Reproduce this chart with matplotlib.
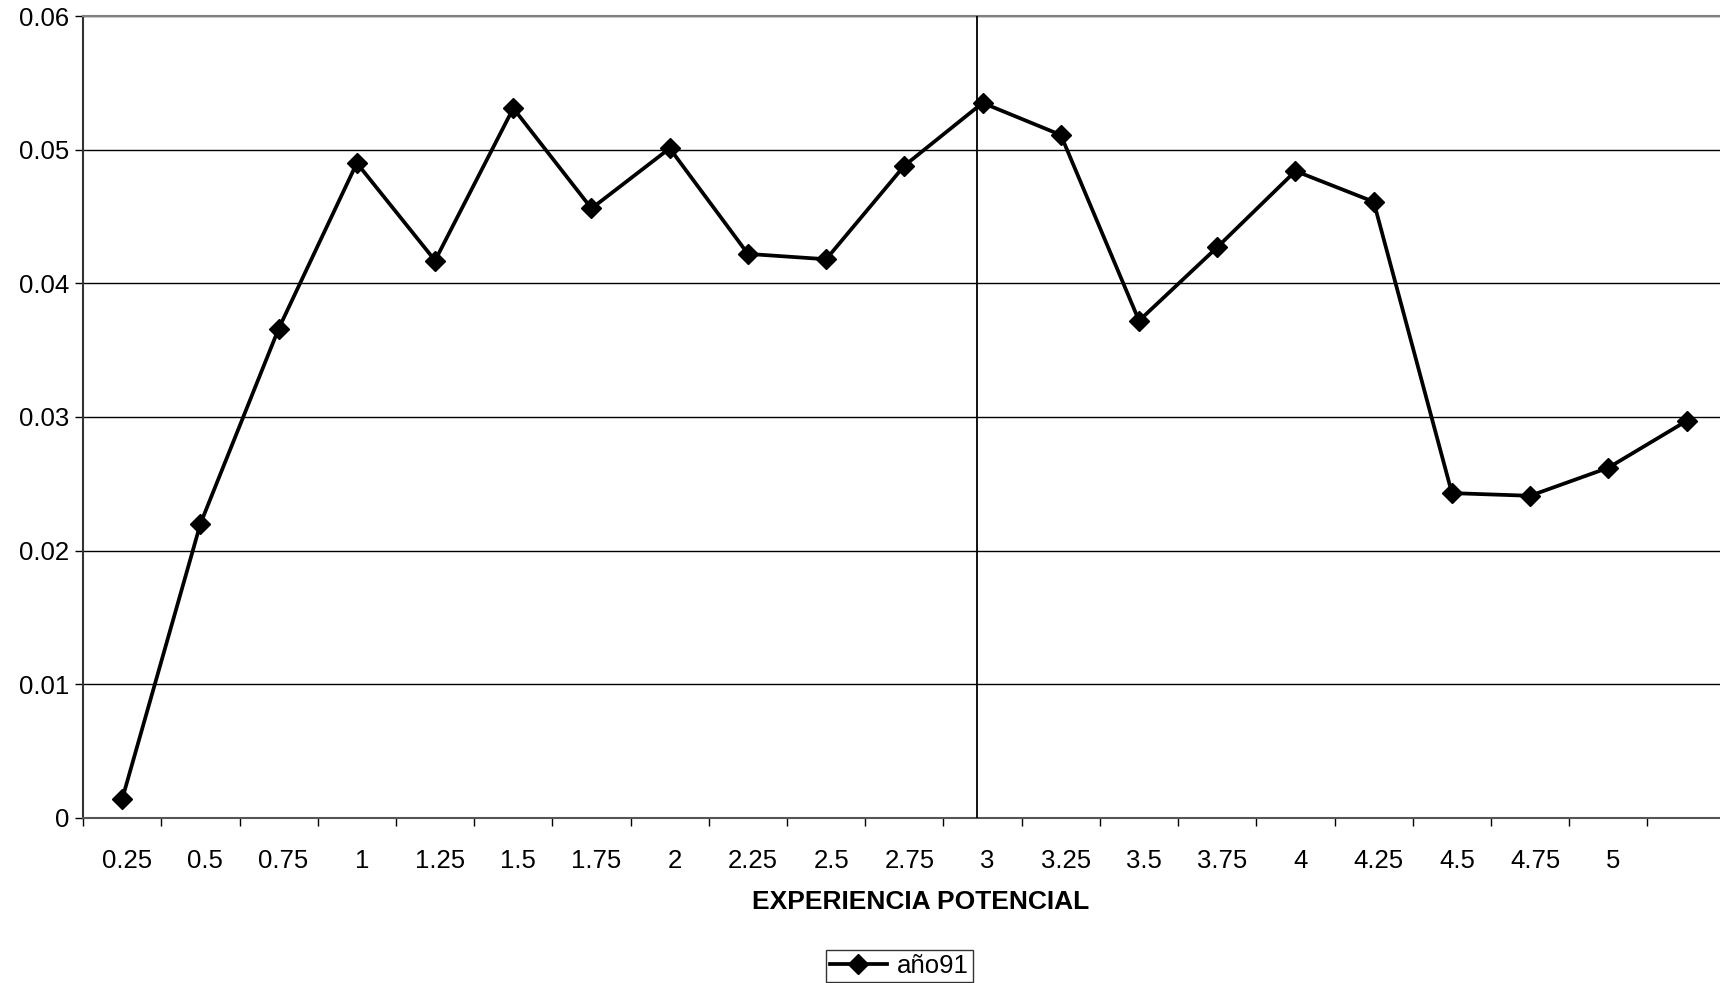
import matplotlib
matplotlib.use("Agg")
import matplotlib.pyplot as plt
import matplotlib.transforms as mtransforms
import numpy as np
from matplotlib.ticker import FixedLocator, FuncFormatter

plt.rcParams['font.family'] = ['Liberation Sans', 'DejaVu Sans']

# categories on the x axis (last category has no label in the original)
categories = ['0.25', '0.5', '0.75', '1', '1.25', '1.5', '1.75', '2', '2.25',
              '2.5', '2.75', '3', '3.25', '3.5', '3.75', '4', '4.25', '4.5',
              '4.75', '5', '']
ano91 = [0.0014, 0.0220, 0.0366, 0.0490, 0.0417, 0.0531, 0.0456, 0.0501,
         0.0422, 0.0418, 0.0488, 0.0535, 0.0511, 0.0372, 0.0427, 0.0484,
         0.0461, 0.0243, 0.0241, 0.0262, 0.0297]
y_ticks = [0, 0.01, 0.02, 0.03, 0.04, 0.05, 0.06]
marker_line_x = 10.93  # vertical reference line, just left of "3"

fig = plt.figure(figsize=(17.2, 9.83), dpi=100)
ax = fig.add_axes([0.0483, 0.168, 0.955, 0.8157])

ind = np.arange(len(categories))
ax.plot(ind, ano91, color='black', lw=2.7, marker='D', ms=10.5,
        markerfacecolor='black', markeredgecolor='black', label='año91',
        zorder=4)
ax.axvline(marker_line_x, color='black', lw=1.3, zorder=3)

ax.set_xlim(-0.5, len(categories) - 0.5)
ax.set_ylim(0, 0.06)

# y axis
ax.yaxis.set_major_locator(FixedLocator(y_ticks))
ax.yaxis.set_major_formatter(FuncFormatter(lambda v, p: '%g' % round(v, 2)))
ax.tick_params(axis='y', direction='out', length=6, width=1, pad=4,
               labelsize=18.5)
ax.yaxis.grid(True, color='black', lw=1.0)
ax.set_axisbelow(True)

# x axis: tick marks on category borders, labels centred on categories
ax.xaxis.set_major_locator(FixedLocator(np.arange(-0.5, len(categories), 1.0)))
ax.xaxis.set_major_formatter(FuncFormatter(lambda v, p: ''))
ax.xaxis.set_minor_locator(FixedLocator(ind))
ax.set_xticklabels(categories, minor=True)
ax.tick_params(axis='x', which='major', direction='out', length=6, width=1)
ax.tick_params(axis='x', which='minor', length=0, pad=22.5, labelsize=18.5)
offset = mtransforms.ScaledTranslation(5 / 100, 0, fig.dpi_scale_trans)
for lbl in ax.xaxis.get_minorticklabels():
    lbl.set_transform(lbl.get_transform() + offset)

ax.set_xlabel('EXPERIENCIA POTENCIAL', fontsize=19, fontweight='bold',
              labelpad=12)
ax.xaxis.label.set_x(0.51)

for side in ['right']:
    ax.spines[side].set_visible(False)
ax.spines['top'].set_color('#808080')
ax.spines['top'].set_linewidth(1.5)
ax.spines['bottom'].set_color('#555555')
ax.spines['bottom'].set_linewidth(1.5)
ax.spines['left'].set_color('#333333')
ax.spines['left'].set_linewidth(1.5)

leg = fig.legend(loc='center', bbox_to_anchor=(0.523, 0.0175), fontsize=18.5,
                 frameon=True, fancybox=False, edgecolor='black',
                 handlelength=2.2, borderpad=0.15, handletextpad=0.4,
                 borderaxespad=0)
leg.get_frame().set_linewidth(1.0)

fig.savefig('out.png', dpi=100)
